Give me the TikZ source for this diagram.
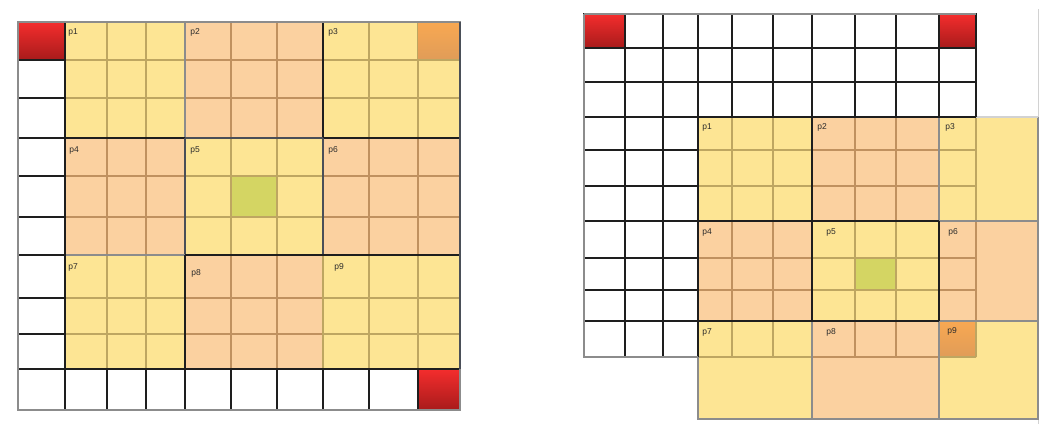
\documentclass[tikz,border=0pt]{standalone}
\usepackage{fontspec}
\setmainfont{Liberation Sans}
\definecolor{yel}{HTML}{FDE594}
\definecolor{pea}{HTML}{FBD1A0}
\definecolor{yline}{HTML}{BEA661}
\definecolor{pline}{HTML}{C0915F}
\definecolor{grn}{HTML}{D4D563}
\definecolor{redT}{HTML}{F42D2D}
\definecolor{redB}{HTML}{A81B1B}
\definecolor{orT}{HTML}{F8A852}
\definecolor{orB}{HTML}{E09C58}
\definecolor{blk}{HTML}{1E1E1E}
\definecolor{dgr}{HTML}{4A4F58}
\definecolor{frm}{HTML}{8C8C8C}
\definecolor{lfrm}{HTML}{D2D2D2}
\definecolor{txt}{HTML}{2B2B2B}
\tikzset{
  yl/.style={yline, line width=1.2pt},
  pl/.style={pline, line width=1.2pt},
  bl/.style={blk, line width=1.3pt},
  dg/.style={dgr, line width=1.3pt},
  gr/.style={frm, line width=1.3pt},
  redcell/.style={top color=redT, bottom color=redB},
  orcell/.style={top color=orT, bottom color=orB},
  lab/.style={font=\fontsize{8.5}{9}\selectfont, text=txt, inner sep=0pt}
}
\begin{document}
\begin{tikzpicture}[x=1pt,y=-1pt]
\useasboundingbox (0,0) rectangle (1056,432);
% ---------- left grid coordinates
\foreach \i/\v in {0/18,1/65,2/107,3/146,4/185,5/231,6/277,7/323,8/369,9/418,10/460}
  \coordinate (ax\i) at (\v,0);
\foreach \i/\v in {0/22,1/60,2/98,3/138,4/176,5/217,6/255,7/298,8/334,9/369,10/410}
  \coordinate (ay\i) at (0,\v);
% ---------- right grid coordinates
\foreach \i/\v in {0/584,1/625,2/663,3/698,4/732,5/773,6/812,7/855,8/896,9/939,10/976,11/1038}
  \coordinate (rx\i) at (\v,0);
\foreach \i/\v in {0/14,1/48,2/82,3/117,4/150,5/186,6/221,7/258,8/290,9/321,10/357,11/419}
  \coordinate (ry\i) at (0,\v);

% ================= LEFT =================
\foreach \bc in {0,1,2}{
  \foreach \br in {0,1,2}{
    \pgfmathtruncatemacro\xa{1+3*\bc}
    \pgfmathtruncatemacro\xb{4+3*\bc}
    \pgfmathtruncatemacro\xc{2+3*\bc}
    \pgfmathtruncatemacro\xd{3+3*\bc}
    \pgfmathtruncatemacro\ya{3*\br}
    \pgfmathtruncatemacro\yb{3+3*\br}
    \pgfmathtruncatemacro\yc{1+3*\br}
    \pgfmathtruncatemacro\yd{2+3*\br}
    \pgfmathtruncatemacro\pty{mod(\bc+\br,2)}
    \ifnum\pty=0 \def\fc{yel}\def\lc{yl}\else\def\fc{pea}\def\lc{pl}\fi
    \fill[\fc] (ax\xa|-ay\ya) rectangle (ax\xb|-ay\yb);
    \draw[\lc] (ax\xc|-ay\ya) -- (ax\xc|-ay\yb);
    \draw[\lc] (ax\xd|-ay\ya) -- (ax\xd|-ay\yb);
    \draw[\lc] (ax\xa|-ay\yc) -- (ax\xb|-ay\yc);
    \draw[\lc] (ax\xa|-ay\yd) -- (ax\xb|-ay\yd);
  }
}
% special cells
\fill[grn] (ax5|-ay4) rectangle (ax6|-ay5);
\draw[yl] (ax5|-ay4) rectangle (ax6|-ay5);
\fill[orcell] (ax9|-ay0) rectangle (ax10|-ay1);
\draw[yl] (ax9|-ay1) -- (ax10|-ay1);
% block borders
\draw[yl] (ax7|-ay6) -- (ax7|-ay9);
\draw[gr] (ax4|-ay0) -- (ax4|-ay3);
\draw[bl] (ax7|-ay0) -- (ax7|-ay3);
\draw[bl] (ax1|-ay3) -- (ax4|-ay3);
\draw[dg] (ax4|-ay3) -- (ax7|-ay3);
\draw[bl] (ax7|-ay3) -- (ax10|-ay3);
\draw[dg] (ax4|-ay3) -- (ax4|-ay6);
\draw[dg] (ax7|-ay3) -- (ax7|-ay6);
\draw[gr] (ax1|-ay6) -- (ax4|-ay6);
\draw[bl] (ax4|-ay6) -- (ax10|-ay6);
\draw[bl] (ax4|-ay6) -- (ax4|-ay9);
% white cells column 1 and row 10
\foreach \j in {1,...,9}{
  \pgfmathtruncatemacro\jn{\j+1}
  \draw[bl] (ax0|-ay\j) rectangle (ax1|-ay\jn);
}
\foreach \i in {1,...,8}{
  \pgfmathtruncatemacro\in{\i+1}
  \draw[bl] (ax\i|-ay9) rectangle (ax\in|-ay10);
}
% red corners
\fill[redcell] (ax0|-ay0) rectangle (ax1|-ay1);
\draw[bl] (ax0|-ay0) rectangle (ax1|-ay1);
\fill[redcell] (ax9|-ay9) rectangle (ax10|-ay10);
\draw[bl] (ax9|-ay9) rectangle (ax10|-ay10);
% outer frame
\draw[frm, line width=1.5pt] (ax0|-ay0) rectangle (ax10|-ay10);
\draw[dg] (ax10|-ay0) -- (ax10|-ay9);
% labels
\node[lab] (lp1) at (73,32) {p1};
\node[lab] (lp2) at (195,32) {p2};
\node[lab] (lp3) at (333,32) {p3};
\node[lab] (lp4) at (74,150) {p4};
\node[lab] (lp5) at (195,150) {p5};
\node[lab] (lp6) at (333,150) {p6};
\node[lab] (lp7) at (73,267) {p7};
\node[lab] (lp8) at (196,273) {p8};
\node[lab] (lp9) at (339,267) {p9};

% ================= RIGHT =================
\draw[lfrm, line width=1pt] (1038,9) -- (1038,424);
% block fills
\fill[yel] (rx3|-ry3) rectangle (rx6|-ry6);
\fill[pea] (rx6|-ry3) rectangle (rx9|-ry6);
\fill[yel] (rx9|-ry3) rectangle (rx11|-ry6);
\fill[pea] (rx3|-ry6) rectangle (rx6|-ry9);
\fill[yel] (rx6|-ry6) rectangle (rx9|-ry9);
\fill[pea] (rx9|-ry6) rectangle (rx11|-ry9);
\fill[yel] (rx3|-ry9) rectangle (rx6|-ry11);
\fill[pea] (rx6|-ry9) rectangle (rx9|-ry11);
\fill[yel] (rx9|-ry9) rectangle (rx11|-ry11);
\fill[orcell] (rx9|-ry9) rectangle (rx10|-ry10);
\fill[grn] (rx7|-ry7) rectangle (rx8|-ry8);
% inner lines, yellow blocks
\draw[yl] (rx4|-ry3) -- (rx4|-ry6) (rx5|-ry3) -- (rx5|-ry6)
          (rx3|-ry4) -- (rx6|-ry4) (rx3|-ry5) -- (rx6|-ry5);
\draw[yl] (rx7|-ry6) -- (rx7|-ry9) (rx8|-ry6) -- (rx8|-ry9)
          (rx6|-ry7) -- (rx9|-ry7) (rx6|-ry8) -- (rx9|-ry8);
\draw[yl] (rx10|-ry3) -- (rx10|-ry6) (rx9|-ry4) -- (rx10|-ry4) (rx9|-ry5) -- (rx10|-ry5);
\draw[yl] (rx4|-ry9) -- (rx4|-ry10) (rx5|-ry9) -- (rx5|-ry10) (rx3|-ry10) -- (rx6|-ry10);
\draw[yl] (rx10|-ry9) -- (rx10|-ry10) (rx9|-ry10) -- (rx10|-ry10);
% inner lines, peach blocks
\draw[pl] (rx7|-ry3) -- (rx7|-ry6) (rx8|-ry3) -- (rx8|-ry6)
          (rx6|-ry4) -- (rx9|-ry4) (rx6|-ry5) -- (rx9|-ry5);
\draw[pl] (rx4|-ry6) -- (rx4|-ry9) (rx5|-ry6) -- (rx5|-ry9)
          (rx3|-ry7) -- (rx6|-ry7) (rx3|-ry8) -- (rx6|-ry8);
\draw[pl] (rx10|-ry6) -- (rx10|-ry9) (rx9|-ry7) -- (rx10|-ry7) (rx9|-ry8) -- (rx10|-ry8);
\draw[pl] (rx7|-ry9) -- (rx7|-ry10) (rx8|-ry9) -- (rx8|-ry10) (rx6|-ry10) -- (rx9|-ry10);
% grey borders of the overhanging part
\draw[gr] (rx3|-ry9) -- (rx3|-ry11) -- (rx11|-ry11) -- (rx11|-ry3);
\draw[gr] (rx6|-ry9) -- (rx6|-ry11);
\draw[gr] (rx9|-ry9) -- (rx9|-ry11);
\draw[gr] (rx9|-ry9) -- (rx11|-ry9);
\draw[gr] (rx9|-ry6) -- (rx11|-ry6);
\draw[lfrm, line width=1.3pt] (rx10|-ry3) -- (rx11|-ry3);
\draw[gr] (rx9|-ry3) -- (rx9|-ry6);
% dark block borders
\draw[bl] (rx6|-ry3) -- (rx6|-ry9);
\draw[bl] (rx9|-ry6) -- (rx9|-ry9);
\draw[bl] (rx3|-ry6) -- (rx9|-ry6);
\draw[bl] (rx3|-ry9) -- (rx9|-ry9);
% white region grid
\foreach \j in {0,...,3} \draw[bl] (rx0|-ry\j) -- (rx10|-ry\j);
\foreach \i in {0,...,10} \draw[bl] (rx\i|-ry0) -- (rx\i|-ry3);
\foreach \j in {4,...,10} \draw[bl] (rx0|-ry\j) -- (rx3|-ry\j);
\foreach \i in {0,...,3} \draw[bl] (rx\i|-ry3) -- (rx\i|-ry10);
% red corners
\fill[redcell] (rx0|-ry0) rectangle (rx1|-ry1);
\draw[bl] (rx0|-ry0) rectangle (rx1|-ry1);
\fill[redcell] (rx9|-ry0) rectangle (rx10|-ry1);
\draw[bl] (rx9|-ry0) rectangle (rx10|-ry1);
% outer light frame of white region
\draw[frm, line width=1.4pt] (rx0|-ry0) -- (rx10|-ry0);
\draw[frm, line width=1.4pt] (rx0|-ry0) -- (rx0|-ry10) -- (rx3|-ry10);
% labels
\node[lab] (rp1) at (707,127) {p1};
\node[lab] (rp2) at (822,127) {p2};
\node[lab] (rp3) at (950,127) {p3};
\node[lab] (rp4) at (707,232) {p4};
\node[lab] (rp5) at (831,232) {p5};
\node[lab] (rp6) at (953,232) {p6};
\node[lab] (rp7) at (707,332) {p7};
\node[lab] (rp8) at (831,332) {p8};
\node[lab] (rp9) at (952,331) {p9};
\end{tikzpicture}
\end{document}
